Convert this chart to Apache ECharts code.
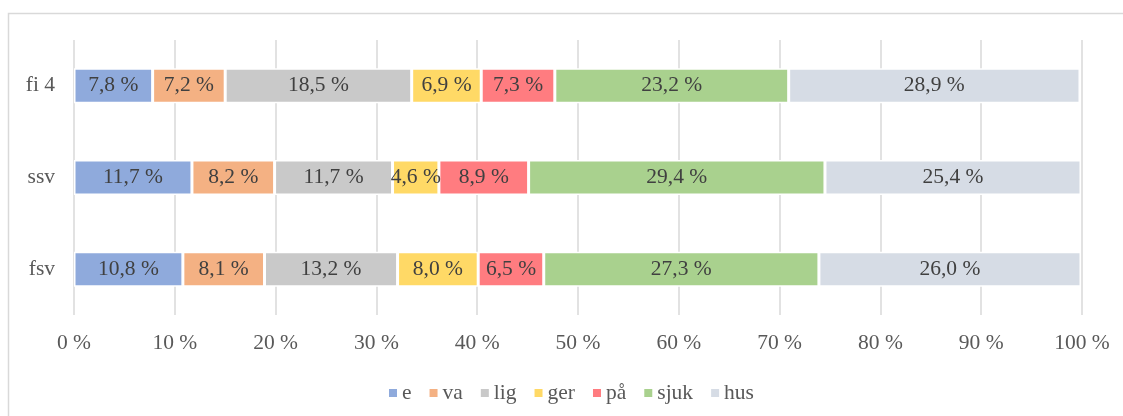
<!DOCTYPE html>
<html>
<head>
<meta charset="utf-8">
<style>
    html, body {margin: 0; padding: 0; background: #fff;}
    #main {width: 1123px; height: 416px;}
</style>
</head>
<body>
<div id="main"></div>
<script src="https://cdn.jsdelivr.net/npm/echarts@6/dist/echarts.min.js"></script>
<script type="text/javascript">
    // categories, bottom to top
    var categories = ['fsv', 'ssv', 'fi 4'];
    var seriesNames = ['e', 'va', 'lig', 'ger', 'på', 'sjuk', 'hus'];
    var colors = ['#8faadc', '#f4b183', '#c9c9c9', '#ffd966', '#ff7c80', '#a9d18e', '#d6dce5'];

    // share (%) per series, order: fsv, ssv, fi 4
    var eVals = [10.8, 11.7, 7.8];
    var vaVals = [8.1, 8.2, 7.2];
    var ligVals = [13.2, 11.7, 18.5];
    var gerVals = [8.0, 4.6, 6.9];
    var paVals = [6.5, 8.9, 7.3];
    var sjukVals = [27.3, 29.4, 23.2];
    var husVals = [26.0, 25.4, 28.9];

    var xTicks = [0, 10, 20, 30, 40, 50, 60, 70, 80, 90, 100];

    var allVals = [eVals, vaVals, ligVals, gerVals, paVals, sjukVals, husVals];
    var font = '"Liberation Serif", "Times New Roman", serif';
    var fs = 21.5;

    var myChart = echarts.init(document.getElementById('main'));

    var series = seriesNames.map(function (name, i) {
        return {
            name: name,
            type: 'bar',
            stack: 'total',
            barWidth: 35,
            itemStyle: {color: colors[i], borderColor: '#fff', borderWidth: 1.5},
            label: {
                show: true,
                position: 'inside',
                color: '#404040',
                fontFamily: font,
                fontSize: fs,
                formatter: function (p) {
                    return p.value.toFixed(1).replace('.', ',') + ' %';
                }
            },
            data: allVals[i]
        };
    });

    var option = {
        color: colors,
        animation: false,
        graphic: [{
            type: 'rect',
            shape: {x: 8.5, y: 13.5, width: 1200, height: 500},
            style: {fill: 'none', stroke: '#d9d9d9', lineWidth: 1.5},
            silent: true
        }],
        grid: {left: 74, right: 41, top: 40, bottom: 101},
        legend: {
            data: seriesNames,
            left: 382,
            top: 377,
            icon: 'rect',
            itemWidth: 10,
            itemHeight: 10,
            itemGap: 16,
            textStyle: {color: '#595959', fontFamily: font, fontSize: fs, padding: [0, 0, 0, -1]}
        },
        xAxis: {
            type: 'value',
            min: xTicks[0],
            max: xTicks[xTicks.length - 1],
            interval: 10,
            axisLine: {show: false},
            axisTick: {show: false},
            splitLine: {lineStyle: {color: '#d9d9d9', width: 1.5}},
            axisLabel: {
                color: '#595959',
                fontFamily: font,
                fontSize: fs,
                margin: 17,
                formatter: function (v) { return v + ' %'; }
            }
        },
        yAxis: {
            type: 'category',
            data: categories,
            axisLine: {show: false},
            axisTick: {show: false},
            axisLabel: {color: '#595959', fontFamily: font, fontSize: fs, margin: 19}
        },
        series: series
    };

    myChart.setOption(option);
</script>
</body>
</html>
